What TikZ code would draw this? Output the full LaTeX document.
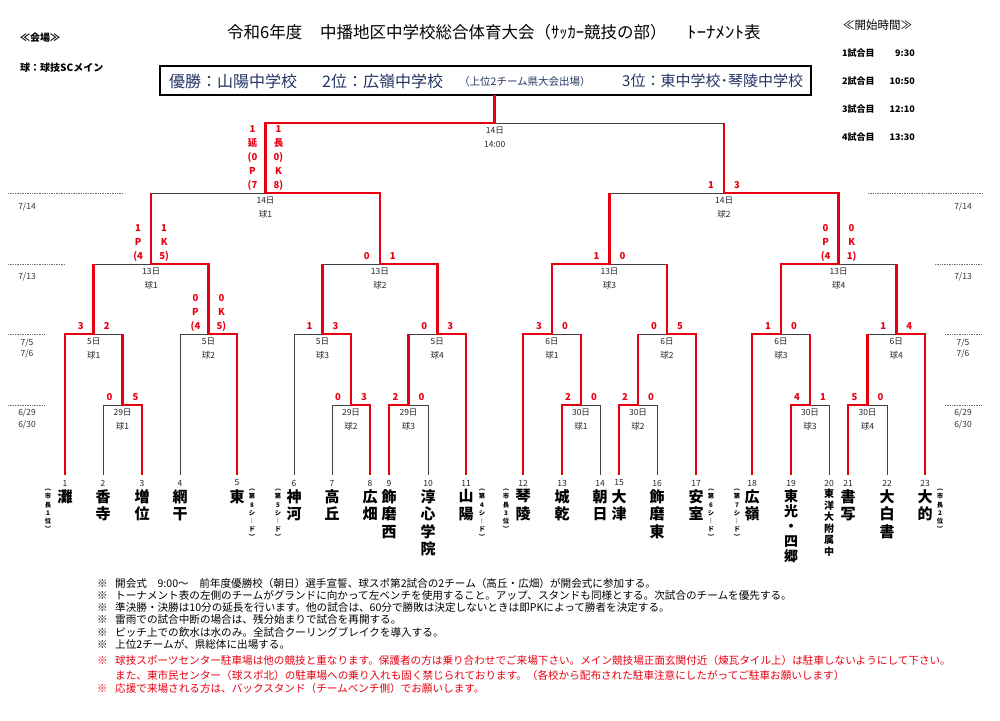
\documentclass[tikz,border=0pt]{standalone}
\usepackage{fontspec}
\setmainfont{Noto Sans CJK JP}
\usetikzlibrary{positioning,calc}
\definecolor{winred}{RGB}{232,0,16}
\definecolor{navy}{RGB}{36,52,100}
\newcommand{\stk}[1]{\begin{tabular}{@{}c@{}}#1\end{tabular}}
\newcommand{\fsz}[2]{\fontsize{#1}{#2}\selectfont}
\tikzset{
  loseline/.style={black!75,line width=0.8pt},
  winline/.style={winred,line width=2.6pt},
  dateline/.style={black!55,densely dotted,line width=0.7pt},
  scorelbl/.style={text=winred,font=\bfseries\fsz{9.5}{14},inner sep=0pt,anchor=south},
  matchlbl/.style={text=black!85,font=\fsz{8.5}{10},inner sep=0pt},
  datelbl/.style={text=black!80,font=\fsz{8.5}{11.5},inner sep=0pt,align=center},
  numlbl/.style={text=black!85,font=\fsz{8.5}{10},inner sep=0pt},
  teamname/.style={font=\bfseries\fsz{15}{17.5},inner sep=0pt,anchor=north,align=center},
  seednote/.style={font=\bfseries\fsz{6.3}{8.2},inner sep=0pt,anchor=north,align=center},
  notelbl/.style={font=\fsz{10.6}{12},inner sep=0pt,anchor=west},
  boxtxt/.style={text=navy,inner sep=0pt,anchor=west},
  titletxt/.style={font=\fsz{16.5}{18},inner sep=0pt,anchor=west},
}
% id/left/right/winner/top/next/day/venue/score L/score R
\def\matchlist{%
A1/t2/t3/t3/405/334/29日/球1/0/5,%
A2/t7/t8/t8/405/334/29日/球2/0/3,%
A3/t9/t10/t9/405/334/29日/球3/2/0,%
A4/t13/t14/t13/405/334/30日/球1/2/0,%
A5/t15/t16/t15/405/334/30日/球2/2/0,%
A6/t19/t20/t19/405/334/30日/球3/4/1,%
A7/t21/t22/t21/405/334/30日/球4/5/0,%
B1/t1/A1/t1/334/264/5日/球1/3/2,%
B2/t4/t5/t5/334/264/5日/球2/0\\P\\(4/0\\K\\5),%
B3/t6/A2/A2/334/264/5日/球3/1/3,%
B4/A3/t11/t11/334/264/5日/球4/0/3,%
B5/t12/A4/t12/334/264/6日/球1/3/0,%
B6/A5/t17/t17/334/264/6日/球2/0/5,%
B7/t18/A6/t18/334/264/6日/球3/1/0,%
B8/A7/t23/t23/334/264/6日/球4/1/4,%
C1/B1/B2/B2/264/193/13日/球1/1\\P\\(4/1\\K\\5),%
C2/B3/B4/B4/264/193/13日/球2/0/1,%
C3/B5/B6/B5/264/193/13日/球3/1/0,%
C4/B7/B8/B7/264/193/13日/球4/0\\P\\(4/0\\K\\1),%
D1/C1/C2/C2/193/123/14日/球1/1\\延\\(0\\P\\(7/1\\長\\0)\\K\\8),%
D2/C3/C4/C4/193/123/14日/球2/1/3,%
F/D1/D2/D1/123/95/14日/14:00/{}/{}}
\begin{document}
\begin{tikzpicture}[x=1pt,y=-1pt]
\useasboundingbox (0,0) rectangle (1000,720);
% header
\node[titletxt] (title1) at (227,32) {令和6年度};
\node[titletxt] (title2) at (320,32) {中播地区中学校総合体育大会（ｻｯｶｰ競技の部）};
\node[titletxt] (title3) at (687,32) {\scalebox{1.15}[1]{ﾄｰﾅﾒﾝﾄ}表};
\node[anchor=west,inner sep=0pt,font=\bfseries\fsz{10}{12}] (venue) at (20,38) {≪会場≫};
\node[anchor=west,inner sep=0pt,font=\bfseries\fsz{10}{12}] (court) at (20,68) {球：球技SCメイン};
\node[anchor=west,inner sep=0pt,font=\fsz{11.5}{13}] (times) at (843,25) {≪開始時間≫};
\foreach \gm/\tm/\y in {1/9:30/53,2/10:50/81,3/12:10/109,4/13:30/137}{
  \node[anchor=west,inner sep=0pt,font=\bfseries\fsz{9}{10}] (g\gm) at (842,\y) {\gm 試合目};
  \node[anchor=east,inner sep=0pt,font=\bfseries\fsz{9}{10}] (h\gm) at (915,\y) {\tm};
}
% result box
\node[draw=black,line width=1.6pt,minimum width=651pt,minimum height=29pt,inner sep=0pt] (result) at (485.5,80.5) {};
\node[boxtxt,font=\fsz{16}{18}] (first) at (169,81) {優勝：山陽中学校};
\node[boxtxt,font=\fsz{16}{18}] (second) at (322,81) {2位：広嶺中学校};
\node[boxtxt,font=\fsz{10.5}{12}] (qual) at (459,82) {（上位2チーム県大会出場）};
\node[boxtxt,font=\fsz{15}{18}] (third) at (622,81) {3位：東中学校･琴陵中学校};
% dates
\draw[dateline] (8,193) -- (122,193) (8,264) -- (65,264) (8,334) -- (45,334) (8,405) -- (45,405);
\draw[dateline] (868,193) -- (982,193) (935,264) -- (982,264) (945,334) -- (982,334) (945,405) -- (982,405);
\foreach \x/\s in {27/l,963/r}{
  \node[datelbl] (d14\s) at (\x,207) {7/14};
  \node[datelbl] (d13\s) at (\x,277) {7/13};
  \node[datelbl] (d5\s) at (\x,348.5) {7/5\\7/6};
  \node[datelbl] (d29\s) at (\x,419) {6/29\\6/30};
}
% teams
\foreach \n/\x in {1/65,2/103,3/142,4/180,5/237,6/294,7/332,8/370,9/389,10/428,11/466,12/523,13/562,14/600,15/619,16/657,17/696,18/752,19/791,20/829,21/848,22/887,23/925}{
  \coordinate (t\n) at (\x,475);
  \node[numlbl] (n\n) at (\x,483) {\n};
}
\foreach \n/\nm in {1/灘,2/香\\寺,3/増\\位,4/網\\干,5/東,6/神\\河,7/高\\丘,8/広\\畑,9/飾\\磨\\西,10/淳\\心\\学\\院,11/山\\陽,12/琴\\陵,13/城\\乾,14/朝\\日,15/大\\津,16/飾\\磨\\東,17/安\\室,18/広\\嶺,21/書\\写,22/大\\白\\書,23/大\\的}{
  \node[teamname] (name\n) at ([yshift=-14pt]t\n) {\nm};
}
\node[teamname,font=\bfseries\fsz{14}{15}] (name19) at ([yshift=-14pt]t19) {東\\光\\・\\四\\郷};
\node[teamname,font=\bfseries\fsz{10}{11.5}] (name20) at ([yshift=-14pt]t20) {東\\洋\\大\\附\\属\\中};
\foreach \x/\sd in {48/︵\\市\\長\\1\\位\\︶,252/︵\\第\\8\\シ\\︱\\ド\\︶,278/︵\\第\\5\\シ\\︱\\ド\\︶,482/︵\\第\\4\\シ\\︱\\ド\\︶,506/︵\\市\\長\\3\\位\\︶,711/︵\\第\\6\\シ\\︱\\ド\\︶,737/︵\\第\\7\\シ\\︱\\ド\\︶,940/︵\\市\\長\\2\\位\\︶}{
  \node[seednote] (seed\x) at (\x,489) {\sd};
}
% bracket lines
\foreach \id/\lg/\rg/\wg/\yt/\yn/\dy/\vn/\sa/\sb in \matchlist{
  \coordinate (\id-m) at ($(\lg)!0.5!(\rg)$);
  \coordinate (\id) at (\id-m |- 0,\yt);
  \draw[loseline] (\lg) -- (\lg |- \id) -- (\rg |- \id) -- (\rg);
  \node[matchlbl] (\id-d) at ([yshift=-7.5pt]\id) {\dy};
  \node[matchlbl] (\id-v) at ([yshift=-21.5pt]\id) {\vn};
}
% winners
\foreach \id/\lg/\rg/\wg/\yt/\yn/\dy/\vn/\sa/\sb in \matchlist{
  \draw[winline] (\wg) |- (\id) -- (\id |- 0,\yn);
  \node[scorelbl] (\id-l) at ([xshift=-13pt]\id) {\stk{\sa}};
  \node[scorelbl] (\id-r) at ([xshift=13pt]\id) {\stk{\sb}};
}
% notes
\node[notelbl] (note1) at (97,583) {\makebox[18pt][l]{※}開会式　9:00～　前年度優勝校（朝日）選手宣誓、球スポ第2試合の2チーム（高丘・広畑）が開会式に参加する。};
\node[notelbl] (note2) at (97,595) {\makebox[18pt][l]{※}トーナメント表の左側のチームがグランドに向かって左ベンチを使用すること。アップ、スタンドも同様とする。次試合のチームを優先する。};
\node[notelbl] (note3) at (97,607) {\makebox[18pt][l]{※}準決勝・決勝は10分の延長を行います。他の試合は、60分で勝敗は決定しないときは即PKによって勝者を決定する。};
\node[notelbl] (note4) at (97,619) {\makebox[18pt][l]{※}雷雨での試合中断の場合は、残分始まりで試合を再開する。};
\node[notelbl] (note5) at (97,632) {\makebox[18pt][l]{※}ピッチ上での飲水は水のみ。全試合クーリングブレイクを導入する。};
\node[notelbl] (note6) at (97,644) {\makebox[18pt][l]{※}上位2チームが、県総体に出場する。};
\node[notelbl,text=winred] (note7) at (97,660) {\makebox[18pt][l]{※}球技スポーツセンター駐車場は他の競技と重なります。保護者の方は乗り合わせでご来場下さい。メイン競技場正面玄関付近（煉瓦タイル上）は駐車しないようにして下さい。};
\node[notelbl,text=winred] (note8) at (115,675) {また、東市民センター（球スポ北）の駐車場への乗り入れも固く禁じられております。（各校から配布された駐車注意にしたがってご駐車お願いします）};
\node[notelbl,text=winred] (note9) at (97,688) {\makebox[18pt][l]{※}応援で来場される方は、バックスタンド（チームベンチ側）でお願いします。};
\end{tikzpicture}
\end{document}
